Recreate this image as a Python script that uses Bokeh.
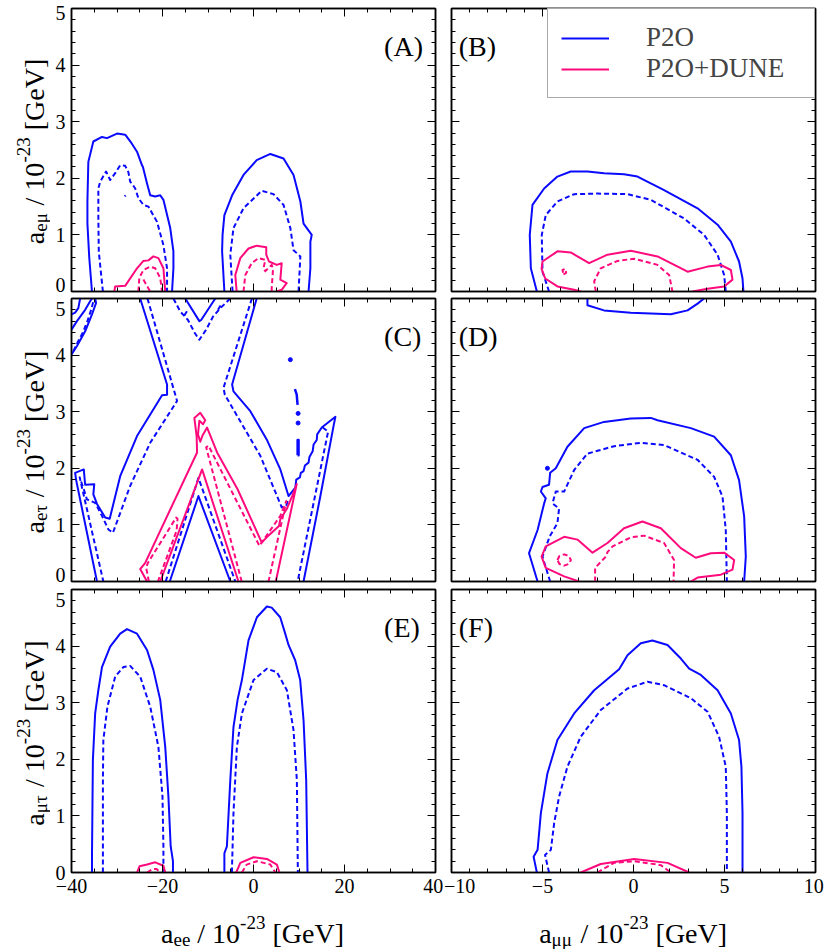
import math
import json
from bokeh.plotting import figure
from bokeh.models import (Range1d, LinearAxis, SingleIntervalTicker, FixedTicker, Label, Legend,
                          LegendItem, CustomJSTickFormatter)
from bokeh.layouts import column, row
from bokeh.embed import file_html
from bokeh.resources import INLINE

BLUE = "#0a0aff"
PINK = "#ff0a7d"
FONT = "Liberation Serif"
AXFONT = "'Liberation Serif', serif"

# ---------------- data ----------------
# Panel A : a_ee vs a_emu
A_P2O_SOLID_X = [[-35.5, -36.1, -36.5, -36.5, -36.3, -35.2, -33.3, -32.2, -30.0, -28.2, -26.8, -25.6, -24.5, -24.3, -23.4, -22.7, -21.6, -20.5, -19.8, -18.3, -17.6, -17.6, -17.9],
                 [-6.4, -6.9, -6.8, -6.4, -4.7, -2.2, 0.7, 3.7, 6.6, 8.8, 10.3, 11.0, 12.8, 12.5, 12.5, 12.1]]
A_P2O_SOLID_Y = [[0, 0.6, 1.2, 1.59, 2.29, 2.65, 2.73, 2.71, 2.79, 2.77, 2.62, 2.47, 2.23, 2.2, 1.91, 1.70, 1.68, 1.70, 1.62, 1.12, 0.71, 0.41, 0],
                 [0, 0.71, 1.0, 1.35, 1.70, 2.06, 2.32, 2.43, 2.35, 2.06, 1.59, 1.20, 1.0, 0.88, 0.41, 0]]
A_P2O_DASH_X = [[-33.1, -34.0, -34.1, -34.1, -33.7, -32.4, -31.5, -30.4, -29.3, -28.2, -27.5, -27.1, -26.5, -26.0, -25.3, -24.2, -23.1, -21.2, -19.8, -19.0, -19.0],
                [-28.3, -28.1],
                [-4.6, -5.1, -4.4, -2.2, 1.8, 4.4, 6.6, 8.1, 8.8, 10.3, 9.9]]
A_P2O_DASH_Y = [[0, 0.7, 1.29, 1.82, 1.94, 2.12, 1.97, 2.09, 2.23, 2.22, 2.11, 1.94, 1.88, 1.82, 1.65, 1.53, 1.50, 1.23, 0.82, 0.41, 0],
                [1.68, 1.70],
                [0, 0.65, 1.12, 1.47, 1.78, 1.72, 1.53, 1.12, 0.73, 0.62, 0]]
A_DUNE_SOLID_X = [[-30.6, -30.4, -28.2, -25.6, -24.2, -23.1, -22.0, -20.9, -19.8, -19.4],
                  [-3.7, -4.0, -2.9, -1.1, 0.7, 2.8, 2.8, 3.4, 5.1, 6.2, 5.9, 7.3, 6.2, 5.1]]
A_DUNE_SOLID_Y = [[0, 0.09, 0.10, 0.41, 0.54, 0.55, 0.62, 0.59, 0.41, 0],
                  [0, 0.29, 0.59, 0.76, 0.81, 0.78, 0.65, 0.53, 0.47, 0.50, 0.21, 0.15, 0.03, 0]]
A_DUNE_DASH_X = [[-25.3, -25.1, -24.2, -22.7, -21.6, -20.5, -20.1],
                 [-24.2, -22.7],
                 [-2.2, -1.8, -0.4, 1.1, 2.6, 2.2, 2.6, 4.0, 4.3, 4.0, 4.0]]
A_DUNE_DASH_Y = [[0, 0.24, 0.38, 0.44, 0.41, 0.24, 0],
                 [0.21, 0],
                 [0, 0.29, 0.50, 0.59, 0.56, 0.41, 0.36, 0.47, 0.40, 0.06, 0]]

# Panel B : a_mumu vs a_emu
B_P2O_SOLID_X = [[-5.31, -5.64, -5.70, -5.55, -4.91, -4.18, -3.45, -2.53, -1.62, -0.52, 0.22, 1.68, 3.52, 4.62, 5.35, 5.80, 5.99, 6.04]]
B_P2O_SOLID_Y = [[0, 0.41, 1.0, 1.53, 1.82, 2.03, 2.12, 2.12, 2.09, 2.07, 2.03, 1.79, 1.47, 1.18, 0.88, 0.53, 0.23, 0]]
B_P2O_DASH_X = [[-4.64, -5.0, -5.04, -4.82, -4.18, -3.26, -1.98, -0.33, 0.95, 2.78, 3.88, 4.62, 4.98, 5.07]]
B_P2O_DASH_Y = [[0, 0.35, 1.0, 1.35, 1.59, 1.72, 1.73, 1.72, 1.62, 1.29, 1.0, 0.65, 0.29, 0]]
B_DUNE_SOLID_X = [[-2.9, -3.26, -4.18, -4.85, -5.05, -5.0, -4.18, -3.45, -2.44, -1.43, -0.15, 1.32, 2.97, 4.07, 4.80, 5.35, 5.44, 4.98, 4.07, 3.24]]
B_DUNE_SOLID_Y = [[0, 0.03, 0.09, 0.23, 0.40, 0.53, 0.71, 0.69, 0.50, 0.65, 0.72, 0.62, 0.35, 0.44, 0.47, 0.38, 0.21, 0.09, 0.05, 0]]
B_DUNE_DASH_X = [[-2.07, -2.16, -1.80, -0.88, 0.04, 1.32, 1.96, 2.14],
                 [-3.85, -3.7, -3.75, -3.9, -3.85]]
B_DUNE_DASH_Y = [[0, 0.18, 0.41, 0.54, 0.58, 0.47, 0.29, 0],
                 [0.30, 0.33, 0.40, 0.38, 0.30]]

# Panel C : a_ee vs a_etau
C_P2O_SOLID_X = [[-40, -38.8, -37.0, -35.9, -35.5],
                 [-40, -38.8, -37.0, -35.5, -34.6, -34.8],
                 [-40, -39.2, -38.5, -38.1],
                 [-24.9, -19.0, -19.0, -20.1, -25.6, -29.3, -31.6, -32.6, -33.5, -34.4, -35.2, -35.0, -37.0, -37.3, -39.2, -39.0, -34.4],
                 [-15.0, -11.9, -11.5, -8.4],
                 [-18.4, -12.1, -5.1],
                 [0.7, -4.7, -4.4, -0.7, 2.9, 5.9, 7.7, 9.2, 9.4, 10.2, 10.4, 11.0, 11.3, 12.1, 12.3, 13.0, 13.2, 13.9, 14.0, 15.0, 18.0, 17.6, 14.7, 11.0]]
C_P2O_SOLID_Y = [[4.45, 4.60, 4.80, 4.95, 5.0],
                 [4.01, 4.16, 4.42, 4.72, 4.92, 5.0],
                 [4.72, 4.75, 4.83, 5.0],
                 [5.0, 3.48, 3.30, 3.29, 2.57, 1.86, 1.11, 1.13, 1.25, 1.37, 1.54, 1.72, 1.71, 1.98, 1.92, 1.8, 0],
                 [5.0, 4.6, 4.62, 5.0],
                 [0, 1.51, 0],
                 [5.0, 3.48, 3.36, 3.01, 2.51, 1.98, 1.51, 1.66, 1.80, 1.84, 1.92, 1.95, 2.05, 2.10, 2.20, 2.30, 2.42, 2.50, 2.60, 2.72, 2.91, 2.75, 1.51, 0]]
C_P2O_DASH_X = [[-39.6, -38.5, -37.5, -36.5, -35.6, -35.2],
                [-23.3, -16.8, -22.7, -27.1, -30.9, -31.9, -33.3, -34.8, -36.6, -37.3, -38.2, -33.0],
                [-17.6, -16.1, -14.4, -12.9, -11.9, -10.4, -8.9, -7.4, -5.1],
                [-19.3, -12.1, -4.0],
                [-0.35, -6.6, -6.3, 1.5, 6.2, 7.2, 7.6],
                [15.2, 16.4, 9.7],
                [-15.2, -14.6],
                [-7.8, -7.2]]
C_P2O_DASH_Y = [[4.07, 4.25, 4.40, 4.6, 4.82, 4.95],
                [5.0, 3.19, 2.45, 1.69, 0.86, 0.92, 1.16, 1.39, 1.45, 1.63, 1.84, 0],
                [5.0, 4.77, 4.62, 4.39, 4.27, 4.45, 4.68, 4.82, 5.0],
                [0, 1.83, 0],
                [5.0, 3.42, 3.3, 2.22, 1.31, 1.34, 1.45],
                [2.72, 2.65, 0],
                [4.70, 4.78],
                [4.80, 4.88]]
C_P2O_BLOB_X = [[9.1, 9.3, 9.5, 9.6, 9.7],
                [9.7, 9.9, 9.9, 9.7, 9.7]]
C_P2O_BLOB_Y = [[3.40, 3.35, 3.30, 3.20, 3.12],
                [2.23, 2.23, 2.50, 2.50, 2.23]]
C_P2O_DOT_X = [8.1, 9.8, 9.8]
C_P2O_DOT_Y = [3.92, 2.97, 2.80]
C_DUNE_SOLID_X = [[-23.4, -24.9, -23.8, -12.4, -12.5, -13.0, -11.7, -10.6, -11.1, -11.9, -12.2, -11.7, -11.2, -10.2, -8.0, -3.5, 1.8, 2.9, 5.6, 5.9, 7.3, 8.5, 9.2, 9.5, 4.9],
                  [-20.5, -11.3, -3.3]]
C_DUNE_SOLID_Y = [[0, 0.22, 0.33, 2.28, 2.57, 2.89, 2.98, 2.85, 2.78, 2.84, 2.60, 2.47, 2.58, 2.72, 2.28, 1.63, 0.69, 0.78, 0.98, 1.10, 1.28, 1.51, 1.66, 1.72, 0],
                  [0, 1.98, 0]]
C_DUNE_DASH_X = [[-23.0, -23.6, -23.2, -17.0, -16.7, -16.9, -21.0],
                 [-2.6, -10.4, -9.9, 1.3, 5.9, 7.2, 3.3]]
C_DUNE_DASH_Y = [[0, 0.25, 0.33, 1.13, 1.11, 0.9, 0],
                 [0, 2.37, 2.40, 0.63, 1.16, 1.42, 0]]

# Panel D : a_mumu vs a_etau
D_P2O_SOLID_X = [[-2.53, -2.53, -1.62, -0.15, 2.05, 2.97, 3.52, 3.88],
                 [-5.27, -5.74, -5.27, -4.91, -4.82, -5.09, -5.0, -4.64, -4.58, -4.27, -3.63, -2.71, -1.62, -0.15, 0.95, 1.32, 3.15, 4.43, 5.35, 5.80, 6.08, 6.17, 6.08]]
D_P2O_SOLID_Y = [[5.0, 4.88, 4.79, 4.75, 4.72, 4.79, 4.91, 5.0],
                 [0, 0.50, 0.91, 1.38, 1.47, 1.59, 1.67, 1.71, 1.92, 2.0, 2.38, 2.71, 2.82, 2.88, 2.89, 2.85, 2.71, 2.56, 2.23, 1.79, 1.15, 0.44, 0]]
D_P2O_DOT_X = [-4.73]
D_P2O_DOT_Y = [2.0]
D_P2O_DASH_X = [[-4.58, -5.0, -4.6, -4.18, -4.09, -4.45, -4.27, -3.81, -3.26, -2.53, -1.07, 0.40, 1.68, 3.52, 4.43, 4.89, 5.07, 5.13]]
D_P2O_DASH_Y = [[0, 0.44, 0.8, 1.03, 1.29, 1.38, 1.59, 1.59, 1.97, 2.26, 2.39, 2.45, 2.41, 2.15, 1.85, 1.50, 0.91, 0]]
D_DUNE_SOLID_X = [[-2.99, -3.81, -4.82, -5.05, -4.82, -3.81, -3.08, -2.25, -1.43, -0.52, 0.49, 1.5, 2.60, 3.42, 4.25, 4.98, 5.53, 5.44, 4.80, 3.52, 3.15]]
D_DUNE_SOLID_Y = [[0, 0.09, 0.24, 0.44, 0.62, 0.79, 0.74, 0.51, 0.68, 0.94, 1.06, 0.94, 0.59, 0.42, 0.50, 0.51, 0.38, 0.21, 0.12, 0.07, 0]]
D_DUNE_DASH_X = [[-2.11, -2.11, -1.52, -1.43, -1.15, -0.15, 0.58, 1.68, 2.23, 2.2],
                 [-4.18, -4.07, -3.81, -3.55, -3.44, -3.55, -3.81, -4.07, -4.18]]
D_DUNE_DASH_Y = [[0, 0.24, 0.44, 0.52, 0.62, 0.78, 0.81, 0.68, 0.38, 0],
                 [0.38, 0.45, 0.48, 0.45, 0.38, 0.31, 0.28, 0.31, 0.38]]

# Panel E : a_ee vs a_mutau
E_P2O_SOLID_X = [[-35.5, -35.5, -35.3, -34.8, -34.1, -33.3, -31.5, -29.3, -27.8, -25.6, -23.4, -22.0, -20.5, -19.4, -18.7, -18.2, -17.7, -17.7],
                 [-6.4, -6.4, -5.85, -5.1, -4.4, -3.5, -2.55, -1.1, 0.75, 2.94, 4.0, 5.87, 6.97, 7.7, 9.16, 10.26, 11.0, 11.58, 11.87]]
E_P2O_SOLID_Y = [[0, 0.28, 1.99, 2.81, 3.22, 3.63, 3.99, 4.22, 4.30, 4.22, 3.93, 3.58, 3.05, 2.22, 1.34, 0.46, 0.2, 0],
                 [0, 0.34, 0.46, 1.63, 2.57, 3.05, 3.40, 4.10, 4.51, 4.70, 4.68, 4.51, 4.22, 4.02, 3.75, 3.40, 2.69, 1.63, 0]]
E_P2O_DASH_X = [[-33.1, -33.1, -33.0, -32.1, -30.4, -28.6, -27.1, -24.9, -22.7, -20.9, -20.0, -19.8, -19.8],
                [-4.75, -4.4, -3.65, -2.55, 0.0, 2.94, 5.14, 7.34, 8.79, 9.53, 9.75]]
E_P2O_DASH_Y = [[0, 1.63, 2.34, 2.93, 3.46, 3.63, 3.65, 3.46, 2.93, 2.22, 1.34, 0.46, 0],
                [0, 1.05, 2.22, 2.81, 3.40, 3.60, 3.54, 3.22, 2.52, 1.63, 0]]
E_DUNE_SOLID_X = [[-25.6, -25.05, -23.4, -21.6, -19.8, -19.4],
                  [-3.8, -2.9, 0.0, 2.94, 5.14, 5.7]]
E_DUNE_SOLID_Y = [[0, 0.11, 0.14, 0.18, 0.12, 0],
                  [0, 0.17, 0.27, 0.24, 0.14, 0]]
E_DUNE_DASH_X = [[-23.4, -22.2, -21.3, -20.5],
                 [-2.55, -1.5, 0.75, 3.7, 4.8]]
E_DUNE_DASH_Y = [[0, 0.06, 0.06, 0],
                 [0, 0.14, 0.20, 0.14, 0]]

# Panel F : a_mumu vs a_mutau
F_P2O_SOLID_X = [[-5.31, -5.49, -5.27, -5.09, -4.73, -4.18, -3.26, -2.16, -0.79, -0.33, 0.40, 1.04, 1.87, 2.60, 3.06, 3.70, 4.62, 5.35, 5.80, 5.93, 5.99, 5.99]]
F_P2O_SOLID_Y = [[0, 0.28, 0.40, 1.05, 1.75, 2.34, 2.81, 3.22, 3.59, 3.84, 4.05, 4.10, 4.02, 3.78, 3.60, 3.49, 3.22, 2.81, 2.34, 1.87, 1.05, 0]]
F_P2O_DASH_X = [[-4.64, -4.86, -4.54, -4.36, -4.09, -3.63, -2.90, -1.80, -0.33, 0.77, 1.68, 3.15, 4.07, 4.70, 5.07, 5.13, 5.13]]
F_P2O_DASH_Y = [[0, 0.31, 0.40, 0.87, 1.34, 1.87, 2.40, 2.87, 3.25, 3.37, 3.31, 3.08, 2.84, 2.40, 1.87, 1.05, 0]]
F_DUNE_SOLID_X = [[-2.90, -1.80, 0.04, 1.87, 3.06]]
F_DUNE_SOLID_Y = [[0, 0.15, 0.24, 0.17, 0]]
F_DUNE_DASH_X = [[-1.98, -1.07, 0.04, 1.5, 2.05]]
F_DUNE_DASH_Y = [[0, 0.17, 0.20, 0.13, 0]]

X_RANGE_EE = (-40, 40)
X_RANGE_MUMU = (-10, 10)
Y_RANGE = (0, 5)
PANEL_TAGS = ["(A)", "(B)", "(C)", "(D)", "(E)", "(F)"]
Y_SUBS = ["eμ", "eτ", "μτ"]
X_SUBS = ["ee", "μμ"]
LEGEND_LABELS = ["P2O", "P2O+DUNE"]
Y_TICK_TEXT = ["0", "1", "2", "3", "4", "5"]
Y_TICK_AT_TOP = [0.12, 1, 2, 3, 4, 4.92]
Y_TICK_AT_MID = [0.12, 1, 2, 3, 4, 4.82]
Y_TICK_AT_BOT = [0, 1, 2, 3, 4, 4.82]
X_EE_TICK_TEXT = ["\u221240", "\u221220", "0", "20", "40"]
X_EE_TICK_AT = [-40, -20, 0, 20, 39.5]
X_MUMU_TICK_TEXT = ["\u221210", "\u22125", "0", "5", "10"]
X_MUMU_TICK_AT = [-9.55, -5, 0, 5, 9.9]

# ---------------- helpers ----------------
W = {"a": .444, "e": .444, "μ": .576, "τ": .44, " ": .25, "/": .278, "1": .5, "0": .5,
     "-": .333, "2": .5, "3": .5, "[": .333, "G": .722, "V": .722, "]": .333}
MAIN, SMALL = 28, 19
PAGE_H = 949
STRIP_W = 50


def tw(s, size):
    return sum(W[c] for c in s) * size


def tick_axis(ax, ticker):
    ax.ticker = ticker
    ax.axis_line_color = "black"
    ax.axis_line_width = 1.5
    ax.major_tick_in = 8
    ax.major_tick_out = 0
    ax.minor_tick_in = 4
    ax.minor_tick_out = 0
    ax.major_tick_line_color = "black"
    ax.minor_tick_line_color = "black"
    ax.major_tick_line_width = 1
    ax.minor_tick_line_width = 1
    ax.major_label_text_font_size = "0px"
    ax.major_label_standoff = 0
    ax.formatter = CustomJSTickFormatter(code="return '';")


def label_axis(p, side, positions, texts):
    code = ("const pos = %s; const lab = %s; "
            "const i = pos.findIndex(v => Math.abs(v - tick) < 1e-6); "
            "return i < 0 ? '' : lab[i];") % (json.dumps(positions), json.dumps(texts))
    ax = LinearAxis(ticker=FixedTicker(ticks=positions, minor_ticks=[]),
                    formatter=CustomJSTickFormatter(code=code),
                    axis_line_color=None, major_tick_line_color=None, minor_tick_line_color=None,
                    major_tick_in=0, major_tick_out=0, minor_tick_in=0, minor_tick_out=0,
                    major_label_text_font=AXFONT, major_label_text_font_size="20px",
                    major_label_text_color="black", major_label_standoff=6)
    p.add_layout(ax, side)


def make_panel(left, top_b, bottom_b):
    xr = X_RANGE_EE if left else X_RANGE_MUMU
    p = figure(frame_width=364, frame_height=283,
               x_range=Range1d(*xr), y_range=Range1d(*Y_RANGE),
               output_backend="svg", toolbar_location=None,
               min_border_left=(71 - STRIP_W) if left else 8, min_border_right=8 if left else 9,
               min_border_top=top_b, min_border_bottom=bottom_b)
    p.xgrid.visible = False
    p.ygrid.visible = False
    p.outline_line_color = "black"
    p.outline_line_width = 1.5
    p.background_fill_color = "white"
    p.border_fill_color = "white"
    bx = p.xaxis[0]
    ly = p.yaxis[0]
    tx = LinearAxis()
    ry = LinearAxis()
    p.add_layout(tx, "above")
    p.add_layout(ry, "right")

    def xt():
        return SingleIntervalTicker(interval=20, num_minor_ticks=4) if left else \
            SingleIntervalTicker(interval=5, num_minor_ticks=5)

    def yt():
        return SingleIntervalTicker(interval=1, num_minor_ticks=5)

    tick_axis(bx, xt())
    tick_axis(tx, xt())
    tick_axis(ly, yt())
    tick_axis(ry, yt())
    return p


def draw(p, xs, ys, color, dashed=False):
    return p.multi_line(xs, ys, line_color=color, line_width=2,
                        line_dash="5 3" if dashed else "solid", line_join="round")


def tag(p, text, left):
    p.add_layout(Label(x=28.7 if left else -9.6, y=4.33, text=text, text_font=FONT,
                       text_font_size="28px", text_align="left", text_baseline="alphabetic",
                       text_color="black"))


def strip(fw, fh, x0, x1, y0, y1):
    s = figure(frame_width=fw, frame_height=fh, x_range=Range1d(x0, x1), y_range=Range1d(y0, y1),
               output_backend="svg", toolbar_location=None, min_border=0, title=None,
               x_axis_location=None, y_axis_location=None)
    s.grid.visible = False
    s.outline_line_color = None
    s.background_fill_color = "white"
    s.border_fill_color = "white"
    return s


def title_parts(sub):
    parts = [("a", 0, MAIN, 0), (sub, 6, SMALL, 0), ("/ 10", 0, MAIN, MAIN * .25),
             ("-23", -11, SMALL, 0), ("[GeV]", 0, MAIN, MAIN * .25)]
    pos = []
    s = 0.0
    for t, sh, sz, gap in parts:
        s += gap
        pos.append(s)
        s += tw(t, sz)
    return parts, pos, s


def y_title(s, sub, base_x, center_y):
    # strip y data = PAGE_H - page_y (upwards)
    parts, pos, L = title_parts(sub)
    for (t, sh, sz, gap), x0 in zip(parts, pos):
        s.add_layout(Label(x=base_x + sh, y=PAGE_H - (center_y + L / 2 - x0), angle=math.pi / 2,
                           text=t, text_font=FONT, text_font_size="%dpx" % sz,
                           text_align="left", text_baseline="alphabetic", text_color="black"))


def x_title(s, sub, center_x, base_y):
    parts, pos, L = title_parts(sub)
    for (t, sh, sz, gap), x0 in zip(parts, pos):
        s.add_layout(Label(x=center_x - L / 2 + x0, y=base_y + sh,
                           text=t, text_font=FONT, text_font_size="%dpx" % sz,
                           text_align="left", text_baseline="alphabetic", text_color="black"))


# ---------------- panels ----------------
pA = make_panel(True, 8, 5)
pB = make_panel(False, 8, 5)
pC = make_panel(True, 2, 5)
pD = make_panel(False, 2, 5)
pE = make_panel(True, 3, 31)
pF = make_panel(False, 3, 31)

label_axis(pA, "left", Y_TICK_AT_TOP, Y_TICK_TEXT)
label_axis(pC, "left", Y_TICK_AT_MID, Y_TICK_TEXT)
label_axis(pE, "left", Y_TICK_AT_BOT, Y_TICK_TEXT)
label_axis(pE, "below", X_EE_TICK_AT, X_EE_TICK_TEXT)
label_axis(pF, "below", X_MUMU_TICK_AT, X_MUMU_TICK_TEXT)

data = [
    (pA, A_P2O_SOLID_X, A_P2O_SOLID_Y, A_P2O_DASH_X, A_P2O_DASH_Y, A_DUNE_SOLID_X, A_DUNE_SOLID_Y, A_DUNE_DASH_X, A_DUNE_DASH_Y),
    (pB, B_P2O_SOLID_X, B_P2O_SOLID_Y, B_P2O_DASH_X, B_P2O_DASH_Y, B_DUNE_SOLID_X, B_DUNE_SOLID_Y, B_DUNE_DASH_X, B_DUNE_DASH_Y),
    (pC, C_P2O_SOLID_X, C_P2O_SOLID_Y, C_P2O_DASH_X, C_P2O_DASH_Y, C_DUNE_SOLID_X, C_DUNE_SOLID_Y, C_DUNE_DASH_X, C_DUNE_DASH_Y),
    (pD, D_P2O_SOLID_X, D_P2O_SOLID_Y, D_P2O_DASH_X, D_P2O_DASH_Y, D_DUNE_SOLID_X, D_DUNE_SOLID_Y, D_DUNE_DASH_X, D_DUNE_DASH_Y),
    (pE, E_P2O_SOLID_X, E_P2O_SOLID_Y, E_P2O_DASH_X, E_P2O_DASH_Y, E_DUNE_SOLID_X, E_DUNE_SOLID_Y, E_DUNE_DASH_X, E_DUNE_DASH_Y),
    (pF, F_P2O_SOLID_X, F_P2O_SOLID_Y, F_P2O_DASH_X, F_P2O_DASH_Y, F_DUNE_SOLID_X, F_DUNE_SOLID_Y, F_DUNE_DASH_X, F_DUNE_DASH_Y),
]
renderers = {}
for (p, psx, psy, pdx, pdy, dsx, dsy, ddx, ddy) in data:
    r1 = draw(p, psx, psy, BLUE)
    draw(p, pdx, pdy, BLUE, dashed=True)
    r2 = draw(p, dsx, dsy, PINK)
    draw(p, ddx, ddy, PINK, dashed=True)
    renderers[id(p)] = (r1, r2)

pC.multi_line(C_P2O_BLOB_X, C_P2O_BLOB_Y, line_color=BLUE, line_width=2.5, line_join="round")
pC.scatter(C_P2O_DOT_X, C_P2O_DOT_Y, size=4, color=BLUE)
pD.scatter(D_P2O_DOT_X, D_P2O_DOT_Y, size=4, color=BLUE)

for p, t, left in zip([pA, pB, pC, pD, pE, pF], PANEL_TAGS, [True, False] * 3):
    tag(p, t, left)

rb, rp = renderers[id(pB)]
legend = Legend(items=[LegendItem(label=LEGEND_LABELS[0], renderers=[rb]),
                       LegendItem(label=LEGEND_LABELS[1], renderers=[rp])],
                location="top_right", margin=0, padding=13, spacing=0,
                glyph_width=48, glyph_height=20, label_standoff=37, label_width=155,
                label_text_font=FONT, label_text_font_size="27px",
                border_line_color="#555555", border_line_width=1,
                background_fill_color="white", background_fill_alpha=1.0)
pB.add_layout(legend)

# axis titles in narrow strips: left strip (page x 0-50), bottom strip (page y 903-949)
pY = strip(STRIP_W, PAGE_H, 0, STRIP_W, 0, PAGE_H)
for sub, cy in zip(Y_SUBS, [151, 441.5, 732.5]):
    y_title(pY, sub, 33.5, cy)
pX = strip(824 - STRIP_W, 46, STRIP_W, 824, 949, 903)
x_title(pX, X_SUBS[0], 252, 933)
x_title(pX, X_SUBS[1], 632.6, 933)

layout = row(pY, column(row(pA, pB), row(pC, pD), row(pE, pF), pX))
open("out.html", "w").write(file_html(layout, INLINE))
